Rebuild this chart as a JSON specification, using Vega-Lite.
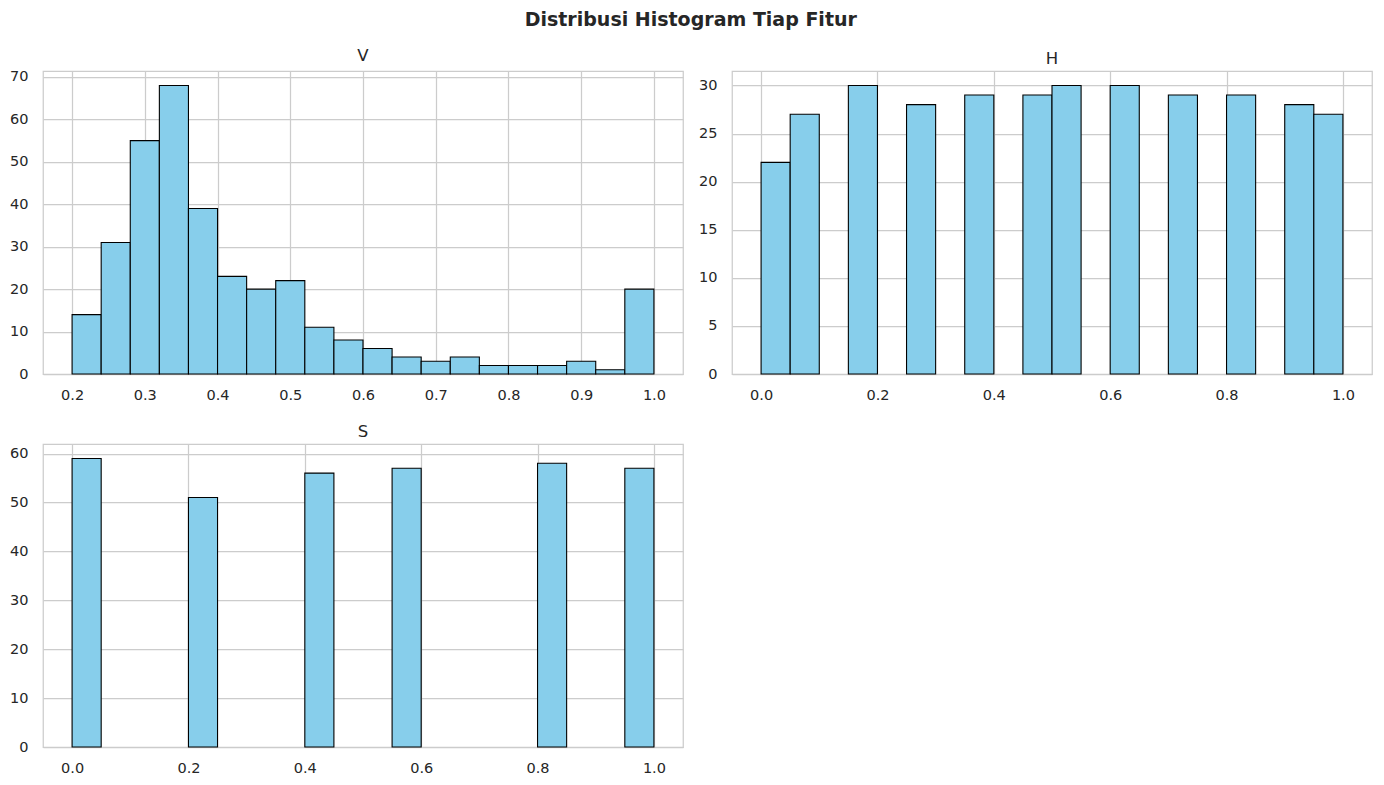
{
  "$schema": "https://vega.github.io/schema/vega-lite/v6.json",
  "title": {"text": "Distribusi Histogram Tiap Fitur", "fontSize": 19, "fontWeight": "bold", "color": "#262626", "anchor": "middle", "offset": 18},
  "padding": {"left": 8, "top": 10, "right": 10, "bottom": 8},
  "background": "white",
  "config": {
    "font": "DejaVu Sans",
    "view": {"stroke": "#cccccc", "strokeWidth": 1.25},
    "axis": {
      "domain": false, "ticks": false,
      "labelFontSize": 14.5, "labelColor": "#262626", "labelFont": "DejaVu Sans",
      "gridColor": "#cccccc", "gridWidth": 1.25, "title": null
    },
    "axisX": {"labelPadding": 14},
    "axisY": {"labelPadding": 15},
    "title": {"fontSize": 16.5, "fontWeight": "normal", "color": "#262626", "font": "DejaVu Sans", "offset": 4}
  },
  "datasets": {
    "V": [
      {"start": 0.20, "end": 0.24, "count": 14}, {"start": 0.24, "end": 0.28, "count": 31},
      {"start": 0.28, "end": 0.32, "count": 55}, {"start": 0.32, "end": 0.36, "count": 68},
      {"start": 0.36, "end": 0.40, "count": 39}, {"start": 0.40, "end": 0.44, "count": 23},
      {"start": 0.44, "end": 0.48, "count": 20}, {"start": 0.48, "end": 0.52, "count": 22},
      {"start": 0.52, "end": 0.56, "count": 11}, {"start": 0.56, "end": 0.60, "count": 8},
      {"start": 0.60, "end": 0.64, "count": 6}, {"start": 0.64, "end": 0.68, "count": 4},
      {"start": 0.68, "end": 0.72, "count": 3}, {"start": 0.72, "end": 0.76, "count": 4},
      {"start": 0.76, "end": 0.80, "count": 2}, {"start": 0.80, "end": 0.84, "count": 2},
      {"start": 0.84, "end": 0.88, "count": 2}, {"start": 0.88, "end": 0.92, "count": 3},
      {"start": 0.92, "end": 0.96, "count": 1}, {"start": 0.96, "end": 1.00, "count": 20}
    ],
    "H": [
      {"start": 0.00, "end": 0.05, "count": 22}, {"start": 0.05, "end": 0.10, "count": 27},
      {"start": 0.15, "end": 0.20, "count": 30}, {"start": 0.25, "end": 0.30, "count": 28},
      {"start": 0.35, "end": 0.40, "count": 29}, {"start": 0.45, "end": 0.50, "count": 29},
      {"start": 0.50, "end": 0.55, "count": 30}, {"start": 0.60, "end": 0.65, "count": 30},
      {"start": 0.70, "end": 0.75, "count": 29}, {"start": 0.80, "end": 0.85, "count": 29},
      {"start": 0.90, "end": 0.95, "count": 28}, {"start": 0.95, "end": 1.00, "count": 27}
    ],
    "S": [
      {"start": 0.00, "end": 0.05, "count": 59}, {"start": 0.20, "end": 0.25, "count": 51},
      {"start": 0.40, "end": 0.45, "count": 56}, {"start": 0.55, "end": 0.60, "count": 57},
      {"start": 0.80, "end": 0.85, "count": 58}, {"start": 0.95, "end": 1.00, "count": 57}
    ]
  },
  "vconcat": [
    {
      "hconcat": [
        {
          "title": "V",
          "width": 640, "height": 303,
          "data": {"name": "V"},
          "mark": {"type": "bar", "fill": "#87ceeb", "stroke": "black", "strokeWidth": 1.1},
          "encoding": {
            "x": {"field": "start", "type": "quantitative", "scale": {"domain": [0.16, 1.04], "nice": false, "zero": false},
                  "axis": {"values": [0.2, 0.3, 0.4, 0.5, 0.6, 0.7, 0.8, 0.9, 1.0], "format": ".1f"}},
            "x2": {"field": "end"},
            "y": {"field": "count", "type": "quantitative", "scale": {"domain": [0, 71.4], "nice": false},
                  "axis": {"values": [0, 10, 20, 30, 40, 50, 60, 70]}},
            "y2": {"datum": 0}
          }
        },
        {
          "title": "H",
          "width": 640, "height": 303,
          "data": {"name": "H"},
          "mark": {"type": "bar", "fill": "#87ceeb", "stroke": "black", "strokeWidth": 1.1},
          "encoding": {
            "x": {"field": "start", "type": "quantitative", "scale": {"domain": [-0.05, 1.05], "nice": false, "zero": false},
                  "axis": {"values": [0, 0.2, 0.4, 0.6, 0.8, 1.0], "format": ".1f"}},
            "x2": {"field": "end"},
            "y": {"field": "count", "type": "quantitative", "scale": {"domain": [0, 31.5], "nice": false},
                  "axis": {"values": [0, 5, 10, 15, 20, 25, 30]}},
            "y2": {"datum": 0}
          }
        }
      ],
      "spacing": 13
    },
    {
      "title": "S",
      "width": 640, "height": 303,
      "data": {"name": "S"},
      "mark": {"type": "bar", "fill": "#87ceeb", "stroke": "black", "strokeWidth": 1.1},
      "encoding": {
        "x": {"field": "start", "type": "quantitative", "scale": {"domain": [-0.05, 1.05], "nice": false, "zero": false},
              "axis": {"values": [0, 0.2, 0.4, 0.6, 0.8, 1.0], "format": ".1f"}},
        "x2": {"field": "end"},
        "y": {"field": "count", "type": "quantitative", "scale": {"domain": [0, 61.95], "nice": false},
              "axis": {"values": [0, 10, 20, 30, 40, 50, 60]}},
        "y2": {"datum": 0}
      }
    }
  ],
  "spacing": 19
}
